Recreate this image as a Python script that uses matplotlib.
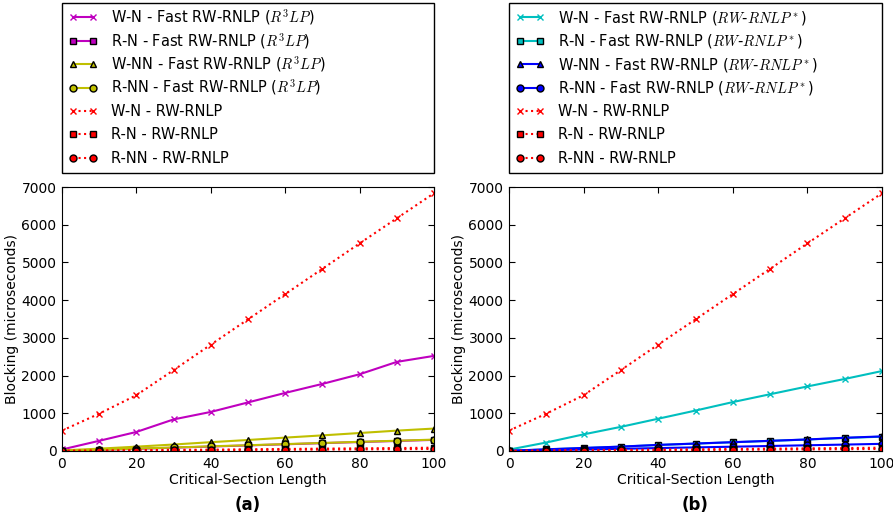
import matplotlib
matplotlib.use("Agg")
import matplotlib.pyplot as plt
from matplotlib.transforms import Bbox

plt.rcParams['mathtext.fontset'] = 'cm'
plt.rcParams['font.family'] = ['DejaVu Sans']

x = [0, 10, 20, 30, 40, 50, 60, 70, 80, 90, 100]

# Baseline RW-RNLP (same in both panels)
rw_wn = [540, 990, 1480, 2145, 2820, 3490, 4160, 4830, 5505, 6170, 6835]
rw_rn = [5, 12, 20, 28, 36, 45, 54, 62, 70, 78, 88]
rw_rnn = [3, 8, 13, 18, 23, 28, 33, 38, 43, 48, 53]

# Panel (a): Fast RW-RNLP (R^3LP)
a_wn = [40, 270, 505, 838, 1036, 1288, 1540, 1779, 2035, 2363, 2522]
a_rn = [8, 30, 58, 88, 118, 148, 178, 208, 238, 266, 295]
a_wnn = [15, 62, 115, 172, 234, 292, 355, 414, 477, 540, 595]
a_rnn = [10, 33, 63, 93, 124, 153, 183, 213, 243, 272, 302]

# Panel (b): Fast RW-RNLP (RW-RNLP*)
b_wn = [36, 225, 441, 640, 856, 1072, 1297, 1505, 1712, 1910, 2120]
b_rn = [5, 42, 78, 115, 158, 195, 232, 268, 304, 345, 380]
b_wnn = [5, 45, 81, 117, 162, 198, 234, 270, 306, 351, 387]
b_rnn = [2, 20, 40, 58, 78, 96, 114, 133, 152, 170, 190]

fig = plt.figure(figsize=(8.93, 5.19), dpi=100)
ax_a = fig.add_axes([62/893, 68/519, 372/893, 264/519])
ax_b = fig.add_axes([509/893, 68/519, 373/893, 264/519])


def uniform_rows(leg, height_pt, descent_pt):
    # give every legend text row the same box so rows are evenly spaced
    for col in leg._legend_handle_box.get_children():
        for row in col.get_children():
            ta = row.get_children()[1]
            orig = ta.get_bbox

            def gb(renderer, _orig=orig):
                bb = _orig(renderer)
                H = renderer.points_to_pixels(height_pt)
                D = renderer.points_to_pixels(descent_pt)
                return Bbox.from_bounds(bb.x0, -D, bb.width, H)
            ta.get_bbox = gb


def panel(ax, fast, color_n, color_nn, tag, letter):
    wn, rn, wnn, rnn = fast
    lw = 1.5
    ms = 5
    ax.plot(x, wn, color=color_n, marker='x', lw=lw, ms=ms, mew=1,
            label='W-N - Fast RW-RNLP (%s)' % tag)
    ax.plot(x, rn, color=color_n, marker='s', lw=lw, ms=ms, mec='k',
            label='R-N - Fast RW-RNLP (%s)' % tag)
    ax.plot(x, wnn, color=color_nn, marker='^', lw=lw, ms=ms, mec='k',
            label='W-NN - Fast RW-RNLP (%s)' % tag)
    ax.plot(x, rnn, color=color_nn, marker='o', lw=lw, ms=ms, mec='k',
            label='R-NN - Fast RW-RNLP (%s)' % tag)
    ax.plot(x, rw_wn, color='r', marker='x', ls=':', lw=lw, ms=ms, mew=1,
            label='W-N - RW-RNLP')
    ax.plot(x, rw_rn, color='r', marker='s', ls=':', lw=lw, ms=ms, mec='k',
            label='R-N - RW-RNLP')
    ax.plot(x, rw_rnn, color='r', marker='o', ls=':', lw=lw, ms=ms, mec='k',
            label='R-NN - RW-RNLP')
    ax.set_xlim(0, 100)
    ax.set_ylim(0, 7000)
    ax.set_xticks([0, 20, 40, 60, 80, 100])
    ax.set_yticks(range(0, 7001, 1000))
    ax.tick_params(direction='in', top=True, right=True, length=4,
                   labelsize=10, pad=4)
    ax.set_xlabel('Critical-Section Length', fontsize=10, labelpad=2)
    ax.set_ylabel('Blocking (microseconds)', fontsize=10, labelpad=2)
    leg = ax.legend(loc='lower left', bbox_to_anchor=(0, 1.053, 1, 0.62),
                    mode='expand', fontsize=10.5, labelspacing=0.5,
                    numpoints=2, handlelength=2.0, borderaxespad=0,
                    fancybox=False, framealpha=1, edgecolor='k',
                    borderpad=0.45, handletextpad=0.9)
    leg.get_frame().set_linewidth(1.0)
    uniform_rows(leg, 11.6, 2.6)
    ax.text(0.5, -0.17, letter, transform=ax.transAxes, ha='center',
            va='top', fontsize=12, fontweight='bold')

panel(ax_a, (a_wn, a_rn, a_wnn, a_rnn), 'm', 'y', r'$R^3LP$', '(a)')
panel(ax_b, (b_wn, b_rn, b_wnn, b_rnn), 'c', 'b', r'$RW$-$RNLP^*$', '(b)')

fig.savefig('out.png', dpi=100)
